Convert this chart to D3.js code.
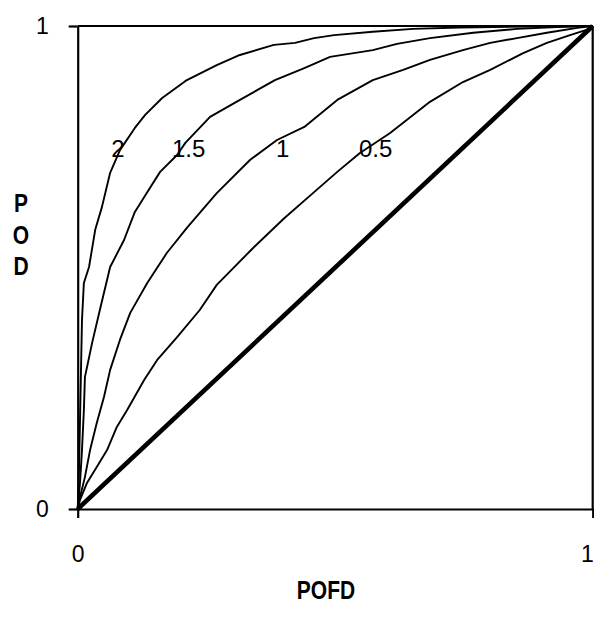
<!DOCTYPE html>
<html>
<head>
<meta charset="utf-8">
<script src="https://cdn.jsdelivr.net/npm/d3@7"></script>
<style>
  body { margin: 0; background: #fff; }
  text { font-family: "Liberation Sans", Arial, sans-serif; fill: #000; }
</style>
</head>
<body>
<div id="chart"></div>
<script>
// curve names (d' values) and their points
var curveNames = ["2", "1.5", "1", "0.5"];

var pofd2 = [0, 0.0025, 0.0045, 0.0064, 0.0083, 0.012, 0.022, 0.034, 0.047, 0.063, 0.082, 0.111, 0.131, 0.164, 0.212, 0.270, 0.315, 0.381, 0.422, 0.459, 0.498, 0.573, 0.651, 0.742, 0.878, 1];
var pod2  = [0, 0.081, 0.184, 0.288, 0.391, 0.468, 0.501, 0.578, 0.625, 0.696, 0.743, 0.789, 0.816, 0.851, 0.888, 0.919, 0.940, 0.961, 0.965, 0.975, 0.981, 0.988, 0.994, 0.997, 0.999, 1];

var pofd15 = [0, 0.0045, 0.0083, 0.012, 0.014, 0.028, 0.043, 0.063, 0.090, 0.111, 0.135, 0.160, 0.193, 0.209, 0.257, 0.315, 0.383, 0.440, 0.490, 0.573, 0.620, 0.684, 0.768, 0.853, 0.931, 1];
var pod15  = [0, 0.054, 0.122, 0.205, 0.273, 0.344, 0.412, 0.501, 0.557, 0.615, 0.656, 0.698, 0.733, 0.758, 0.812, 0.847, 0.888, 0.913, 0.936, 0.950, 0.963, 0.975, 0.986, 0.994, 0.998, 1];

var pofd1 = [0, 0.0045, 0.014, 0.024, 0.037, 0.051, 0.063, 0.082, 0.102, 0.135, 0.173, 0.212, 0.270, 0.335, 0.387, 0.440, 0.504, 0.573, 0.632, 0.684, 0.748, 0.801, 0.853, 0.911, 0.970, 1];
var pod1  = [0, 0.025, 0.066, 0.122, 0.178, 0.232, 0.288, 0.350, 0.406, 0.468, 0.530, 0.582, 0.654, 0.723, 0.764, 0.791, 0.847, 0.888, 0.909, 0.930, 0.950, 0.965, 0.975, 0.986, 0.996, 1];

var pofd05 = [0, 0.0045, 0.018, 0.037, 0.057, 0.076, 0.096, 0.129, 0.154, 0.193, 0.237, 0.270, 0.342, 0.401, 0.459, 0.504, 0.548, 0.606, 0.684, 0.748, 0.801, 0.865, 0.911, 0.956, 0.994, 1];
var pod05  = [0, 0.019, 0.054, 0.087, 0.122, 0.170, 0.205, 0.267, 0.308, 0.356, 0.412, 0.464, 0.542, 0.602, 0.656, 0.698, 0.737, 0.778, 0.843, 0.884, 0.909, 0.944, 0.965, 0.981, 0.994, 1];

var diagPofd = [0, 1];
var diagPod  = [0, 1];

var tickValues = [0, 1];
var tickLabels = ["0", "1"];

var width = 594, height = 617;
var margin = { left: 77.7, right: 1.3, top: 26, bottom: 108 };

var x = d3.scaleLinear().domain([0, 1]).range([margin.left, width - margin.right]);
var y = d3.scaleLinear().domain([0, 1]).range([height - margin.bottom, margin.top]);

var svg = d3.select("#chart").append("svg")
    .attr("width", width)
    .attr("height", height);

svg.append("rect").attr("width", width).attr("height", height).attr("fill", "#fff");

var line = d3.line()
    .x(function(d) { return x(d[0]); })
    .y(function(d) { return y(d[1]); });

function zip(a, b) { return a.map(function(v, i) { return [v, b[i]]; }); }

var curves = [zip(pofd2, pod2), zip(pofd15, pod15), zip(pofd1, pod1), zip(pofd05, pod05)];

// plot frame: top and right border
svg.append("line")
   .attr("x1", x(0)).attr("x2", x(1)).attr("y1", y(1)).attr("y2", y(1))
   .attr("stroke", "#000").attr("stroke-width", 2.2);
svg.append("line")
   .attr("x1", x(1)).attr("x2", x(1)).attr("y1", y(1)).attr("y2", y(0))
   .attr("stroke", "#000").attr("stroke-width", 2.2);

// curves
svg.selectAll(".curve")
   .data(curves)
   .enter().append("path")
   .attr("class", "curve")
   .attr("d", line)
   .attr("fill", "none")
   .attr("stroke", "#000")
   .attr("stroke-width", 1.9)
   .attr("stroke-linejoin", "round");

// no-skill diagonal
svg.append("path")
   .datum(zip(diagPofd, diagPod))
   .attr("d", line)
   .attr("fill", "none")
   .attr("stroke", "#000")
   .attr("stroke-width", 4.6);

// axes
var yAxis = svg.append("g")
   .attr("transform", "translate(" + x(0) + ",0)")
   .call(d3.axisLeft(y).tickValues(tickValues).tickFormat(function(d, i) { return tickLabels[i]; })
        .tickSize(9).tickPadding(20).tickSizeOuter(0));
var xAxis = svg.append("g")
   .attr("transform", "translate(0," + y(0) + ")")
   .call(d3.axisBottom(x).tickValues(tickValues).tickFormat(function(d, i) { return tickLabels[i]; })
        .tickSize(9).tickPadding(28).tickSizeOuter(0));

[xAxis, yAxis].forEach(function(g) {
    g.select(".domain").attr("stroke", "#000").attr("stroke-width", 2.2);
    g.selectAll(".tick line").attr("stroke", "#000").attr("stroke-width", 2.2);
    g.selectAll(".tick text").attr("fill", "#000").style("font-size", "23px")
     .style("font-family", '"Liberation Sans", Arial, sans-serif');
});
// last x tick label sits at the window edge: keep it inside
xAxis.selectAll(".tick text").filter(function(d) { return d === 1; })
   .attr("text-anchor", "end").attr("x", 0.5);

// curve labels placed in data space
var labelPofd = [0.065, 0.183, 0.385, 0.546];
var labelPod = 0.729;
svg.selectAll(".clabel")
   .data(curveNames)
   .enter().append("text")
   .attr("class", "clabel")
   .attr("x", function(d, i) { return x(labelPofd[i]); })
   .attr("y", y(labelPod))
   .style("font-size", "24px")
   .text(function(d) { return d; });

// axis titles (slightly tall bold type, as in the original)
svg.append("text")
   .attr("transform", "translate(326,599) scale(1,1.2)")
   .attr("text-anchor", "middle")
   .attr("font-weight", "bold")
   .style("font-size", "21px")
   .text("POFD");

var podLetters = ["P", "O", "D"];
svg.selectAll(".ylet")
   .data(podLetters)
   .enter().append("text")
   .attr("class", "ylet")
   .attr("transform", function(d, i) { return "translate(21," + (212 + i * 31.5) + ") scale(1,1.2)"; })
   .attr("text-anchor", "middle")
   .attr("font-weight", "bold")
   .style("font-size", "21px")
   .text(function(d) { return d; });
</script>
</body>
</html>
